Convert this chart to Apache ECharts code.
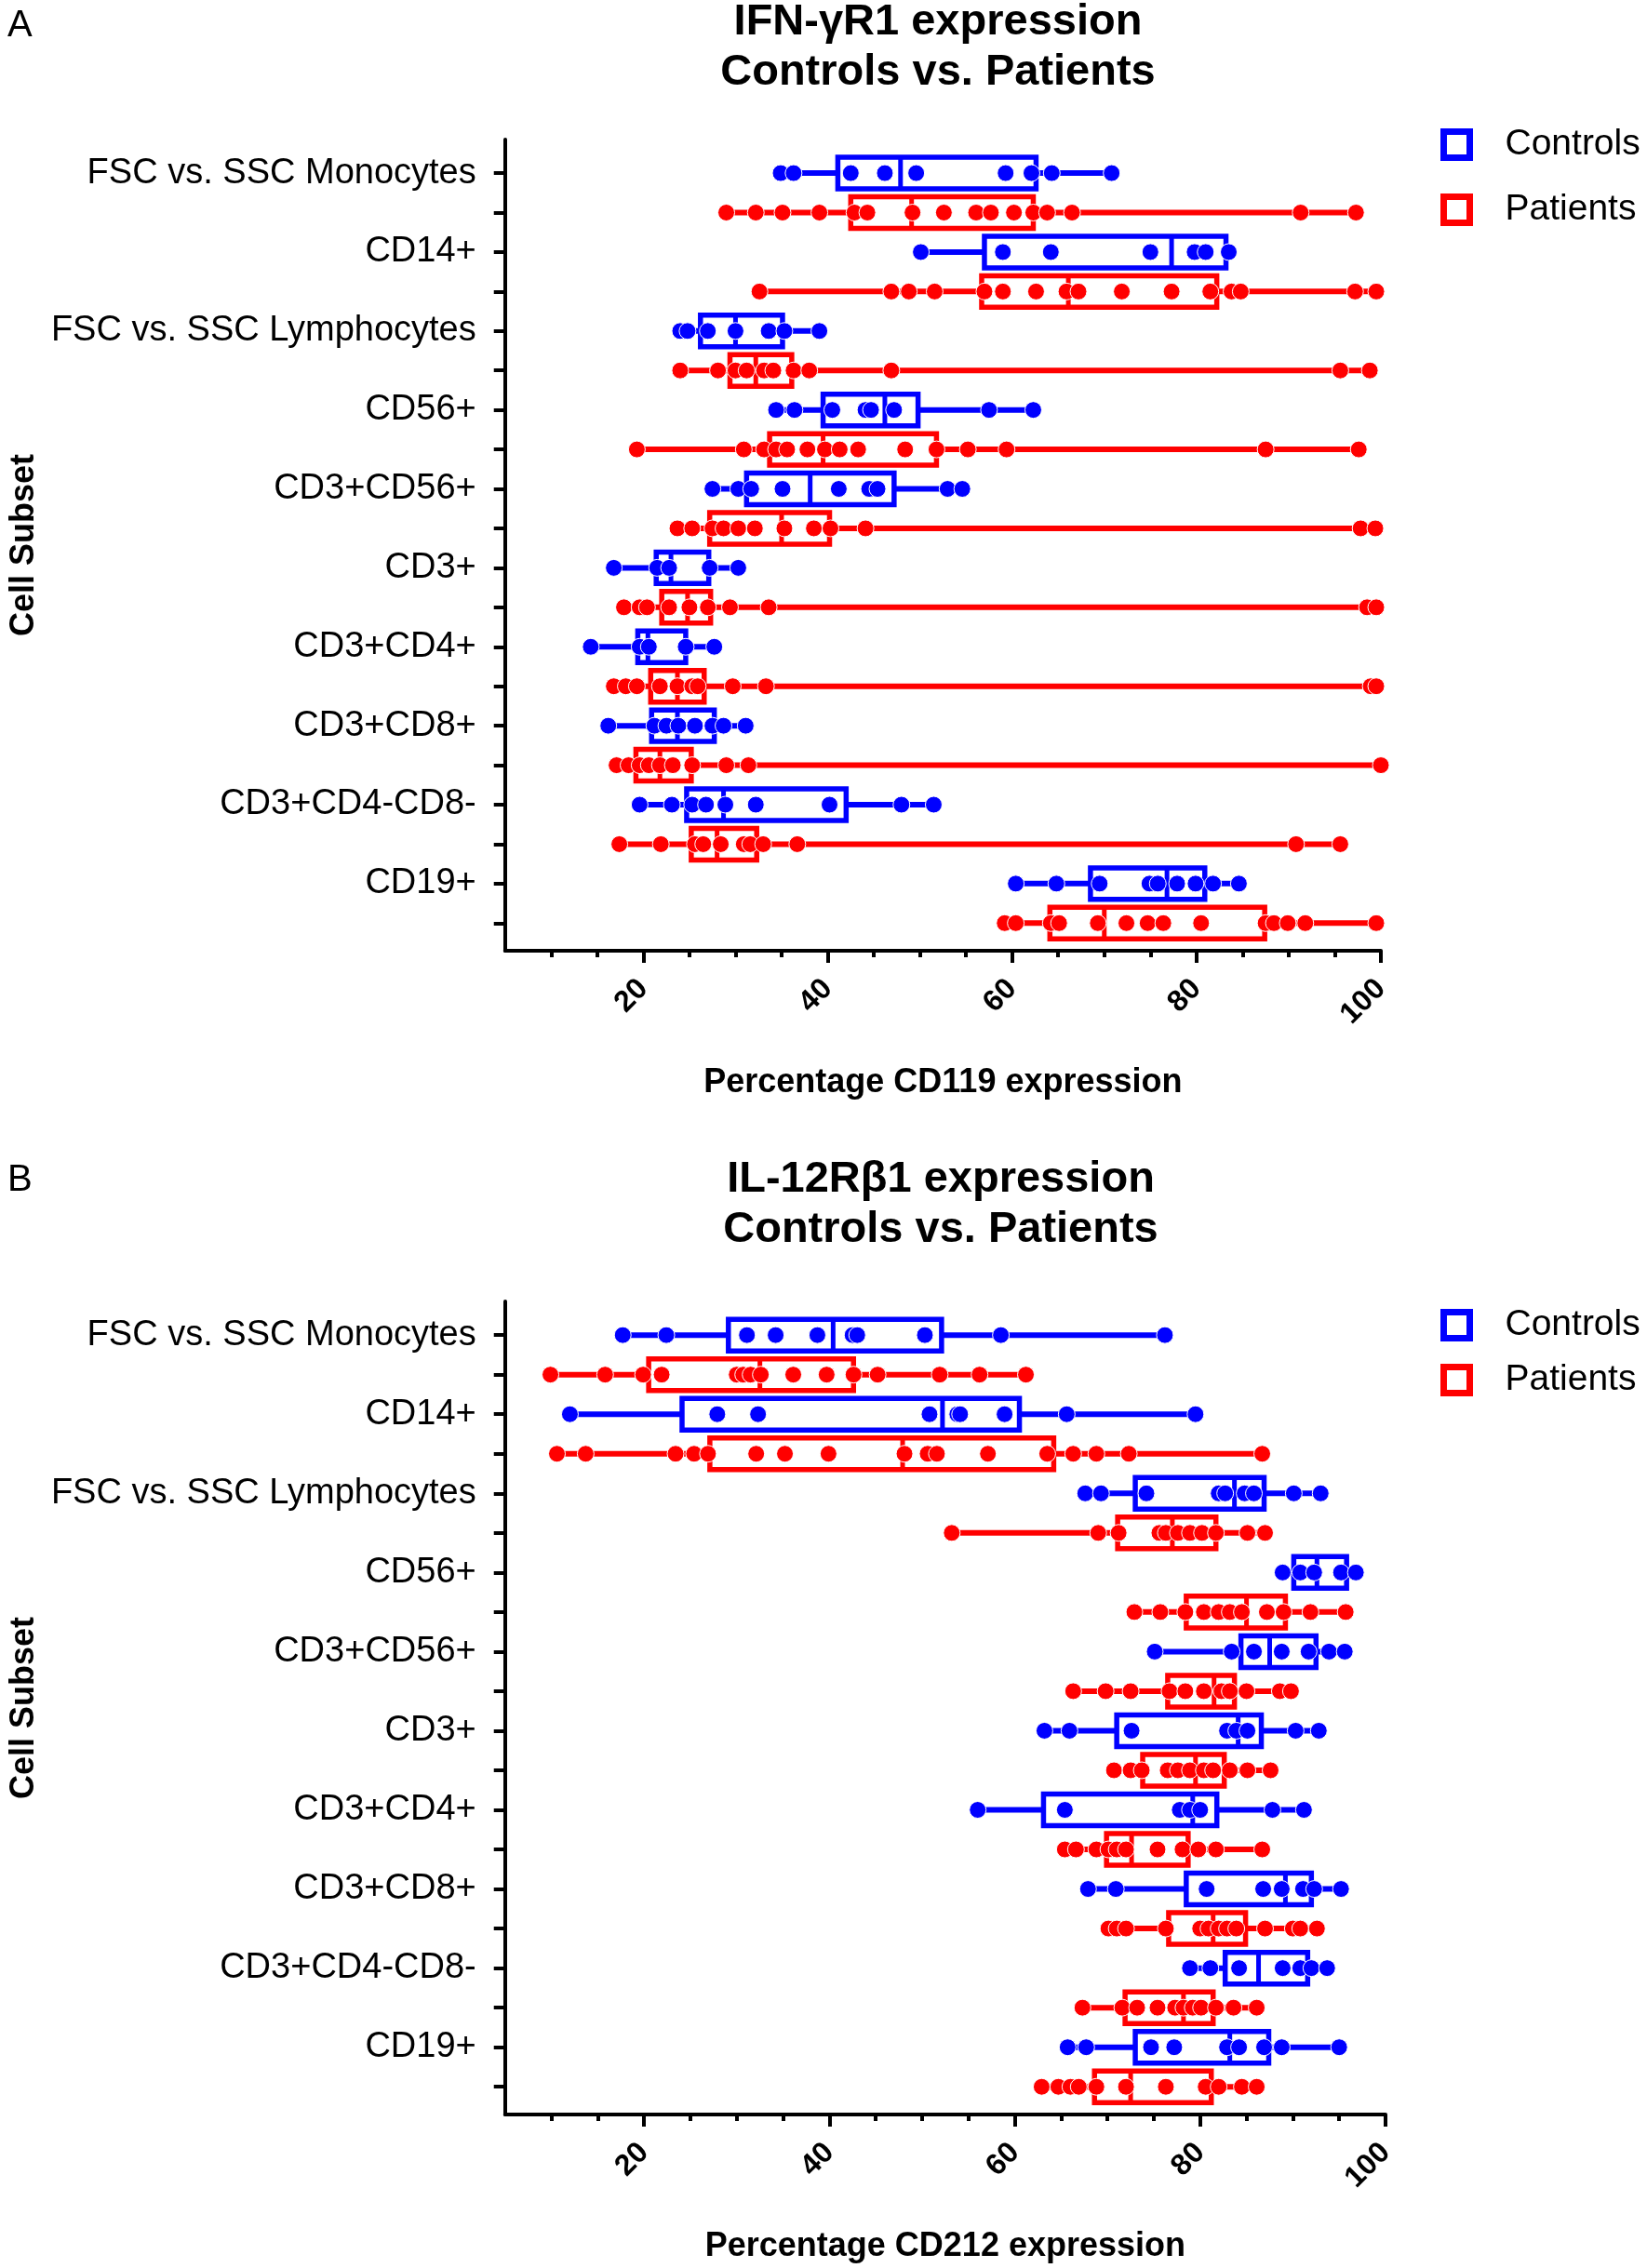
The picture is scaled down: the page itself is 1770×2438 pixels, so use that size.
<!DOCTYPE html>
<html>
<head>
<meta charset="utf-8">
<script src="https://cdn.jsdelivr.net/npm/echarts@6.0.0/dist/echarts.min.js"></script>
<style>
  * { margin: 0; padding: 0; }
  body { background: #fff; }
  #chart { width: 1770px; height: 2438px; }
</style>
</head>
<body>
<div id="chart"></div>
<script>
// cell subsets, top to bottom (controls row, then patients row)
const subsets = ['FSC vs. SSC Monocytes', 'CD14+', 'FSC vs. SSC Lymphocytes', 'CD56+', 'CD3+CD56+',
                 'CD3+', 'CD3+CD4+', 'CD3+CD8+', 'CD3+CD4-CD8-', 'CD19+'];
const xLabelTicks = [20, 40, 60, 80, 100];
const xMinorTicks = [10, 15, 20, 25, 30, 35, 40, 45, 50, 55, 60, 65, 70, 75, 80, 85, 90, 95, 100];

// A: IFN-gR1 (CD119) - boxes are [Q1, median, Q3], whiskers run min..max
const cd119CtrlBox = [[41.1, 47.9, 62.6], [57.0, 77.3, 83.2], [26.2, 30.0, 35.1], [39.5, 46.2, 49.8], [31.2, 38.1, 47.2],
                      [21.4, 23.0, 27.1], [19.4, 20.5, 24.6], [20.9, 23.7, 27.7], [24.7, 28.7, 42.0], [68.5, 76.8, 80.9]];
const cd119CtrlPts = [
  [34.9, 36.3, 42.5, 46.2, 49.6, 59.3, 62.1, 64.3, 70.8],
  [50.1, 59.0, 64.2, 75.0, 79.8, 81.0, 83.5],
  [24.0, 24.8, 27.0, 30.0, 33.6, 35.3, 39.1],
  [34.4, 36.4, 40.5, 44.1, 44.7, 47.2, 57.5, 62.3],
  [27.5, 30.3, 31.7, 35.1, 41.2, 44.5, 45.4, 53.0, 54.6],
  [16.8, 21.5, 22.8, 27.2, 30.3],
  [14.3, 19.6, 20.6, 24.6, 27.7],
  [16.2, 21.2, 22.5, 23.8, 25.6, 27.5, 28.7, 31.1],
  [19.6, 23.1, 25.3, 26.8, 28.9, 32.2, 40.2, 48.0, 51.5],
  [60.4, 64.8, 69.5, 74.9, 75.8, 77.9, 79.9, 81.8, 84.6]
];
const cd119PatBox = [[42.5, 49.1, 62.3], [56.7, 66.1, 82.2], [29.4, 32.2, 36.1], [33.7, 39.5, 51.8], [27.2, 35.0, 40.2],
                     [22.0, 24.8, 27.3], [20.8, 23.7, 26.6], [19.2, 21.8, 25.2], [25.2, 28.0, 32.3], [64.1, 70.0, 87.4]];
const cd119PatPts = [
  [29.0, 32.2, 35.1, 39.1, 42.9, 44.3, 49.2, 52.6, 56.1, 57.7, 60.2, 62.3, 63.8, 66.5, 91.3, 97.3],
  [32.6, 46.9, 48.8, 51.6, 57.0, 59.0, 62.6, 65.9, 67.2, 71.9, 77.3, 81.5, 83.8, 84.8, 97.2, 99.5],
  [24.0, 28.1, 30.0, 31.2, 33.1, 34.1, 36.3, 38.0, 46.9, 95.6, 98.8],
  [19.3, 30.9, 33.1, 34.4, 35.6, 37.8, 39.7, 41.3, 43.3, 48.4, 51.8, 55.2, 59.4, 87.5, 97.6],
  [23.7, 25.3, 27.5, 28.7, 30.3, 32.1, 35.3, 38.5, 40.3, 44.1, 97.8, 99.4],
  [17.9, 19.6, 20.4, 22.8, 25.0, 27.0, 29.4, 33.6, 98.5, 99.5],
  [16.8, 18.1, 19.3, 21.8, 23.7, 25.3, 25.9, 29.7, 33.3, 98.9, 99.5],
  [17.1, 18.4, 19.6, 20.6, 21.8, 23.2, 25.3, 29.0, 31.4, 100.0],
  [17.4, 21.9, 25.6, 26.5, 28.4, 30.9, 31.6, 33.0, 36.7, 90.8, 95.6],
  [59.2, 60.4, 64.2, 65.1, 69.3, 72.4, 74.7, 76.4, 80.5, 87.5, 88.4, 89.9, 91.8, 99.5]
];

// B: IL-12Rb1 (CD212)
const cd212CtrlBox = [[29.1, 40.4, 52.1], [24.1, 52.2, 60.5], [73.0, 83.7, 86.9], [90.1, 92.6, 95.8], [84.4, 87.5, 92.5],
                      [71.0, 84.1, 86.6], [63.1, 79.2, 81.8], [78.5, 89.2, 92.0], [82.7, 86.3, 91.6], [73.0, 83.2, 87.4]];
const cd212CtrlPts = [
  [17.7, 22.4, 31.1, 34.2, 38.7, 42.5, 43.0, 50.3, 58.5, 76.2],
  [12.0, 27.9, 32.3, 50.8, 53.8, 54.1, 58.9, 65.6, 79.5],
  [67.6, 69.3, 74.2, 82.0, 82.7, 84.8, 85.8, 90.1, 93.0],
  [88.9, 90.8, 92.3, 95.2, 96.8],
  [75.1, 83.4, 85.8, 88.8, 91.7, 93.9, 95.6],
  [63.2, 65.9, 72.6, 82.9, 83.9, 85.1, 90.3, 92.8],
  [56.0, 65.4, 77.8, 78.9, 80.0, 87.8, 91.2],
  [67.9, 70.9, 80.7, 86.8, 88.8, 91.1, 92.3, 95.2],
  [78.9, 81.1, 84.2, 88.9, 90.8, 92.0, 93.7],
  [65.7, 67.7, 74.7, 77.2, 82.9, 84.2, 86.9, 88.8, 95.0]
];
const cd212PatBox = [[20.5, 32.5, 42.6], [27.1, 47.9, 64.2], [71.1, 77.0, 81.7], [78.5, 85.0, 89.2], [76.5, 81.5, 83.7],
                     [73.8, 79.5, 82.6], [69.9, 72.6, 78.7], [76.6, 81.4, 84.9], [71.9, 78.2, 81.4], [68.6, 72.5, 81.2]];
const cd212PatPts = [
  [9.9, 15.8, 19.9, 21.9, 30.0, 30.7, 31.5, 32.6, 36.1, 39.7, 42.6, 45.2, 51.9, 56.2, 61.2],
  [10.6, 13.7, 23.4, 25.4, 26.9, 32.1, 35.2, 39.9, 48.1, 50.6, 51.6, 57.1, 63.5, 66.3, 68.8, 72.3, 86.7],
  [53.2, 69.0, 71.2, 75.6, 76.3, 77.6, 78.9, 80.2, 81.7, 85.1, 87.0],
  [72.9, 75.7, 78.4, 80.4, 82.0, 83.2, 84.5, 87.2, 89.0, 91.9, 95.7],
  [66.3, 69.8, 72.5, 76.7, 78.4, 80.4, 82.3, 83.2, 85.0, 88.6, 89.8],
  [70.7, 72.5, 73.7, 76.5, 77.6, 78.9, 80.4, 81.4, 83.2, 85.1, 87.6],
  [65.4, 66.6, 68.8, 70.1, 71.0, 72.0, 75.4, 78.1, 79.8, 81.7, 86.7],
  [70.1, 71.0, 72.0, 76.3, 80.0, 80.9, 82.0, 82.9, 83.9, 87.0, 90.0, 90.8, 92.6],
  [67.3, 71.6, 73.2, 75.4, 77.3, 78.2, 79.2, 80.1, 81.7, 83.6, 86.1],
  [62.9, 64.7, 66.0, 66.9, 68.8, 72.0, 76.3, 80.6, 82.0, 84.5, 86.1]
];

const FONT = '"Liberation Sans", Arial, sans-serif';
const BLUE = '#0000ff';
const RED = '#ff0000';

// row index: controls = 2*i, patients = 2*i + 1
function boxData(boxes, pts, offset) {
  return boxes.map((b, i) => [2 * i + offset, Math.min(...pts[i]), b[0], b[1], b[2], Math.max(...pts[i])]);
}
function dotData(pts, offset) {
  const out = [];
  pts.forEach((arr, i) => arr.forEach(v => out.push([v, 2 * i + offset])));
  return out;
}

function boxRenderer(color) {
  return function (params, api) {
    const row = api.value(0);
    const lo = api.coord([api.value(1), row]);
    const q1 = api.coord([api.value(2), row]);
    const md = api.coord([api.value(3), row]);
    const q3 = api.coord([api.value(4), row]);
    const hi = api.coord([api.value(5), row]);
    const h = api.size([0, 1])[1] * 0.8;
    return {
      type: 'group',
      children: [
        { type: 'line', shape: { x1: lo[0], y1: lo[1], x2: hi[0], y2: hi[1] }, style: { stroke: color, lineWidth: 6 } },
        { type: 'rect', shape: { x: q1[0], y: q1[1] - h / 2, width: q3[0] - q1[0], height: h },
          style: { fill: '#fff', stroke: color, lineWidth: 5.5 } },
        { type: 'line', shape: { x1: md[0], y1: md[1] - h / 2, x2: md[0], y2: md[1] + h / 2 },
          style: { stroke: color, lineWidth: 5 } }
      ]
    };
  };
}

function xAxes(gridIndex, name) {
  return [{
    type: 'value', gridIndex: gridIndex, position: 'bottom', min: 5, max: 100,
    name: name, nameLocation: 'middle', nameGap: 124,
    nameTextStyle: { fontFamily: FONT, fontSize: 36, fontWeight: 'bold', color: '#000' },
    axisLine: { show: true, onZero: false, lineStyle: { color: '#000', width: 4 } },
    axisTick: { show: true, customValues: xMinorTicks, length: 7, lineStyle: { color: '#000', width: 4 } },
    axisLabel: { customValues: xLabelTicks, rotate: 45, margin: 36, fontFamily: FONT, fontSize: 32,
                 fontWeight: 'bold', color: '#000' },
    splitLine: { show: false }
  }, {
    type: 'value', gridIndex: gridIndex, position: 'bottom', min: 5, max: 100,
    axisLine: { show: false, onZero: false },
    axisTick: { show: true, customValues: xLabelTicks, length: 13, lineStyle: { color: '#000', width: 4 } },
    axisLabel: { show: false },
    splitLine: { show: false }
  }];
}

function yAxis(gridIndex) {
  const rowTicks = [];
  const labelRows = [];
  for (let i = 0; i < subsets.length; i++) {
    rowTicks.push(2 * i, 2 * i + 1);
    labelRows.push(2 * i);
  }
  return {
    type: 'value', gridIndex: gridIndex, inverse: true, min: -0.85, max: 19.7,
    name: 'Cell Subset', nameLocation: 'middle', nameGap: 495, nameRotate: 90,
    nameTextStyle: { fontFamily: FONT, fontSize: 36, fontWeight: 'bold', color: '#000' },
    axisLine: { show: true, onZero: false, lineStyle: { color: '#000', width: 4 } },
    axisTick: { show: true, customValues: rowTicks, length: 12, lineStyle: { color: '#000', width: 4 } },
    axisLabel: { customValues: labelRows, formatter: v => subsets[Math.round(v / 2)], margin: 31,
                 fontFamily: FONT, fontSize: 38, color: '#000' },
    splitLine: { show: false }
  };
}

function panelSeries(gi, ctrlBox, ctrlPts, patBox, patPts) {
  const common = { xAxisIndex: 2 * gi, yAxisIndex: gi };
  return [
    Object.assign({ type: 'custom', renderItem: boxRenderer(BLUE), encode: { x: [1, 2, 3, 4, 5], y: 0 },
                    data: boxData(ctrlBox, ctrlPts, 0), z: 2 }, common),
    Object.assign({ type: 'custom', renderItem: boxRenderer(RED), encode: { x: [1, 2, 3, 4, 5], y: 0 },
                    data: boxData(patBox, patPts, 1), z: 2 }, common),
    Object.assign({ type: 'scatter', name: 'Controls', data: dotData(ctrlPts, 0), symbolSize: 18, z: 3,
                    itemStyle: { color: BLUE, borderColor: '#fff', borderWidth: 1, opacity: 1 } }, common),
    Object.assign({ type: 'scatter', name: 'Patients', data: dotData(patPts, 1), symbolSize: 18, z: 3,
                    itemStyle: { color: RED, borderColor: '#fff', borderWidth: 1, opacity: 1 } }, common)
  ];
}

function legend(top, gap) {
  return {
    left: 1548, top: top, orient: 'vertical', padding: 0, itemGap: gap,
    itemWidth: 28, itemHeight: 28, icon: 'rect', selectedMode: false,
    textStyle: { fontFamily: FONT, fontSize: 39, color: '#000', lineHeight: 28, padding: [0, 0, 0, 33] },
    data: [
      { name: 'Controls', itemStyle: { color: '#fff', borderColor: BLUE, borderWidth: 7 } },
      { name: 'Patients', itemStyle: { color: '#fff', borderColor: RED, borderWidth: 7 } }
    ]
  };
}

const chart = echarts.init(document.getElementById('chart'), null, { renderer: 'canvas' });

chart.setOption({
  animation: false,
  backgroundColor: '#fff',
  title: [
    { text: 'A', left: 8, top: 8, padding: 0,
      textStyle: { fontFamily: FONT, fontSize: 40, fontWeight: 'normal', color: '#000', lineHeight: 40 } },
    { text: 'IFN-γR1 expression\nControls vs. Patients', left: 1008, top: -3, textAlign: 'center', padding: 0,
      textStyle: { fontFamily: FONT, fontSize: 47, fontWeight: 'bold', color: '#000', lineHeight: 54 } },
    { text: 'B', left: 8, top: 1249, padding: 0,
      textStyle: { fontFamily: FONT, fontSize: 40, fontWeight: 'normal', color: '#000', lineHeight: 40 } },
    { text: 'IL-12Rβ1 expression\nControls vs. Patients', left: 1011, top: 1241, textAlign: 'center', padding: 0,
      textStyle: { fontFamily: FONT, fontSize: 47, fontWeight: 'bold', color: '#000', lineHeight: 54 } }
  ],
  legend: [legend(136, 31), legend(1405, 20)],
  grid: [
    { left: 533, top: 150, width: 951, height: 872 },
    { left: 533, top: 1399, width: 956, height: 874 }
  ],
  xAxis: xAxes(0, 'Percentage CD119 expression').concat(xAxes(1, 'Percentage CD212 expression')),
  yAxis: [yAxis(0), yAxis(1)],
  series: panelSeries(0, cd119CtrlBox, cd119CtrlPts, cd119PatBox, cd119PatPts)
    .concat(panelSeries(1, cd212CtrlBox, cd212CtrlPts, cd212PatBox, cd212PatPts))
});
</script>
</body>
</html>
